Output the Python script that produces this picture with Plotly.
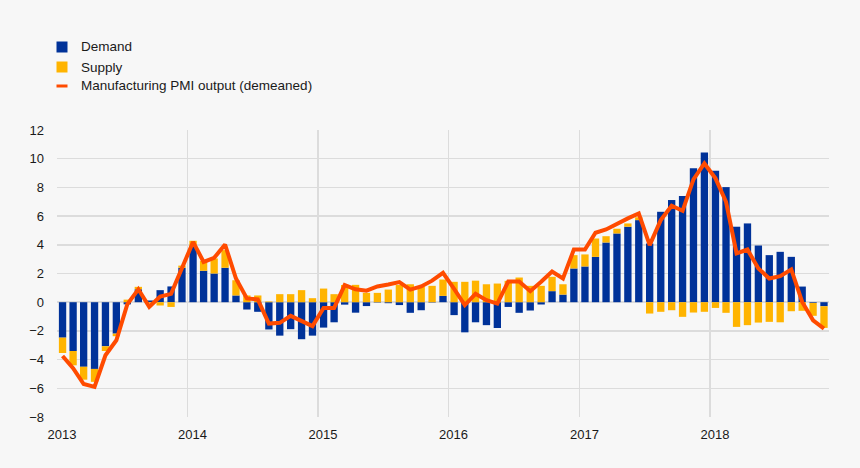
import plotly.graph_objects as go
import pandas as pd

months = pd.date_range("2013-01-01", "2018-11-01", freq="MS").strftime("%Y-%m").tolist()

demand = [
    -2.47, -3.40, -4.50, -4.65, -3.07, -2.19, -0.15, 0.90, 0.12, 0.84, 1.10, 2.40,
    3.86, 2.19, 2.00, 2.40, 0.47, -0.51, -0.67, -1.90, -2.33, -1.88, -2.58, -2.33,
    -1.77, -1.40, -0.17, -0.73, -0.27, -0.03, -0.07, -0.20, -0.74, -0.56, -0.03, 0.44,
    -0.90, -2.10, -1.40, -1.60, -1.80, -0.33, -0.74, -0.58, -0.16, 0.77, 0.53, 2.35,
    2.49, 3.16, 4.16, 4.79, 5.26, 5.72, 4.09, 6.30, 7.12, 7.40, 9.33, 10.44,
    9.16, 8.02, 5.26, 5.49, 3.95, 3.28, 3.51, 3.16, 1.09, -0.05, -0.28,
]
supply = [
    -1.07, -1.00, -0.90, -0.90, -0.33, -0.18, 0.18, 0.17, -0.05, -0.23, -0.33, 0.15,
    0.42, 0.69, 1.05, 1.23, 1.06, 0.47, 0.47, 0.05, 0.56, 0.56, 0.84, 0.28,
    0.95, 0.56, 1.20, 1.21, 0.65, 0.65, 0.88, 1.20, 1.25, 1.07, 1.14, 1.14,
    1.42, 1.42, 1.50, 1.25, 1.30, 1.49, 1.72, 1.14, 1.14, 1.00, 0.72, 0.93,
    0.84, 1.28, 0.44, 0.33, 0.23, 0.20, -0.79, -0.67, -0.56, -1.02, -0.72, -0.67,
    -0.40, -0.74, -1.72, -1.60, -1.42, -1.37, -1.40, -0.63, -0.60, -0.90, -1.51,
]
pmi = [
    -3.75, -4.60, -5.70, -5.90, -3.70, -2.65, -0.15, 0.90, -0.32, 0.40, 0.58, 2.40,
    4.20, 2.81, 3.09, 4.02, 1.65, 0.26, 0.19, -1.49, -1.44, -0.95, -1.30, -1.67,
    -0.40, -0.40, 1.19, 0.90, 0.80, 1.10, 1.23, 1.40, 0.88, 1.10, 1.50, 2.05,
    0.93, -0.20, 0.58, 0.14, -0.10, 1.44, 1.44, 0.77, 1.42, 2.14, 1.65, 3.67,
    3.67, 4.84, 5.07, 5.49, 5.84, 6.19, 3.98, 5.72, 6.72, 6.37, 8.56, 9.67,
    8.63, 7.00, 3.40, 3.67, 2.35, 1.65, 1.81, 2.28, 0.02, -1.26, -1.84,
]

year_ticks = ["2013-01-01", "2014-01-01", "2015-01-01", "2016-01-01", "2017-01-01", "2018-01-01"]
year_labels = ["2013", "2014", "2015", "2016", "2017", "2018"]
y_ticks = [-8, -6, -4, -2, 0, 2, 4, 6, 8, 10, 12]

legend_names = ["Demand", "Supply", "Manufacturing PMI output (demeaned)"]
colors = ["#003299", "#ffb400", "#ff4b00"]

BG = "#f7f7f7"
GRID = "#dcdcdc"
FONT = "Arial, Liberation Sans, sans-serif"
TXT = "#1a1a1a"

W, H = 860, 468
L, R, T, B = 57, 31, 130, 51
pw, ph = W - L - R, H - T - B

bar_w = 20.5 * 86400000

fig = go.Figure()
fig.add_bar(x=months, y=demand, xperiod="M1", xperiodalignment="middle",
            width=bar_w, marker=dict(color=colors[0], line=dict(width=0)),
            name=legend_names[0], showlegend=False)
fig.add_bar(x=months, y=supply, xperiod="M1", xperiodalignment="middle",
            width=bar_w, marker=dict(color=colors[1], line=dict(width=0)),
            name=legend_names[1], showlegend=False)
fig.add_scatter(x=months, y=pmi, xperiod="M1", xperiodalignment="middle",
                mode="lines", line=dict(color=colors[2], width=4),
                name=legend_names[2], showlegend=False)


def px_x(p):
    return (p - L) / pw


def px_y(p):
    return (H - B - p) / ph


shapes = []
annotations = []
rows = [47, 67, 86]
for i, (name, col) in enumerate(zip(legend_names, colors)):
    cy = rows[i]
    if i < 2:
        shapes.append(dict(type="rect", xref="paper", yref="paper",
                           x0=px_x(56.5), x1=px_x(67.5), y0=px_y(cy - 5.5), y1=px_y(cy + 5.5),
                           fillcolor=col, line=dict(width=0)))
    else:
        shapes.append(dict(type="line", xref="paper", yref="paper",
                           x0=px_x(56.5), x1=px_x(67.5), y0=px_y(cy), y1=px_y(cy),
                           line=dict(color=col, width=3)))
    annotations.append(dict(text=name, xref="paper", yref="paper",
                            x=px_x(79), y=px_y(cy), xanchor="left", yanchor="middle",
                            showarrow=False, font=dict(family=FONT, size=13.5, color=TXT)))

fig.update_layout(
    width=W, height=H,
    margin=dict(l=L, r=R, t=T, b=B, pad=0),
    barmode="relative",
    paper_bgcolor=BG, plot_bgcolor=BG,
    font=dict(family=FONT, size=13, color=TXT),
    shapes=shapes, annotations=annotations,
    showlegend=False,
    hovermode=False,
    xaxis=dict(type="date", range=["2013-01-01", "2018-11-30"],
               tickvals=year_ticks, ticktext=year_labels,
               showgrid=True, gridcolor=GRID, gridwidth=1.5,
               zeroline=False, showline=False, ticks="",
               ticklabelshift=5, ticklabelstandoff=8,
               tickfont=dict(size=13, color=TXT)),
    yaxis=dict(range=[-8, 12], tickvals=y_ticks,
               showgrid=True, gridcolor=GRID, gridwidth=1.5,
               zeroline=False, showline=False, ticks="",
               ticklabelstandoff=12,
               tickfont=dict(size=13, color=TXT)),
)

fig.write_html(
    "out.html",
    config={"displayModeBar": False, "staticPlot": True},
    post_script="document.body.style.margin='0';document.body.style.overflow='hidden';"
                "document.body.style.background='" + BG + "';",
)
